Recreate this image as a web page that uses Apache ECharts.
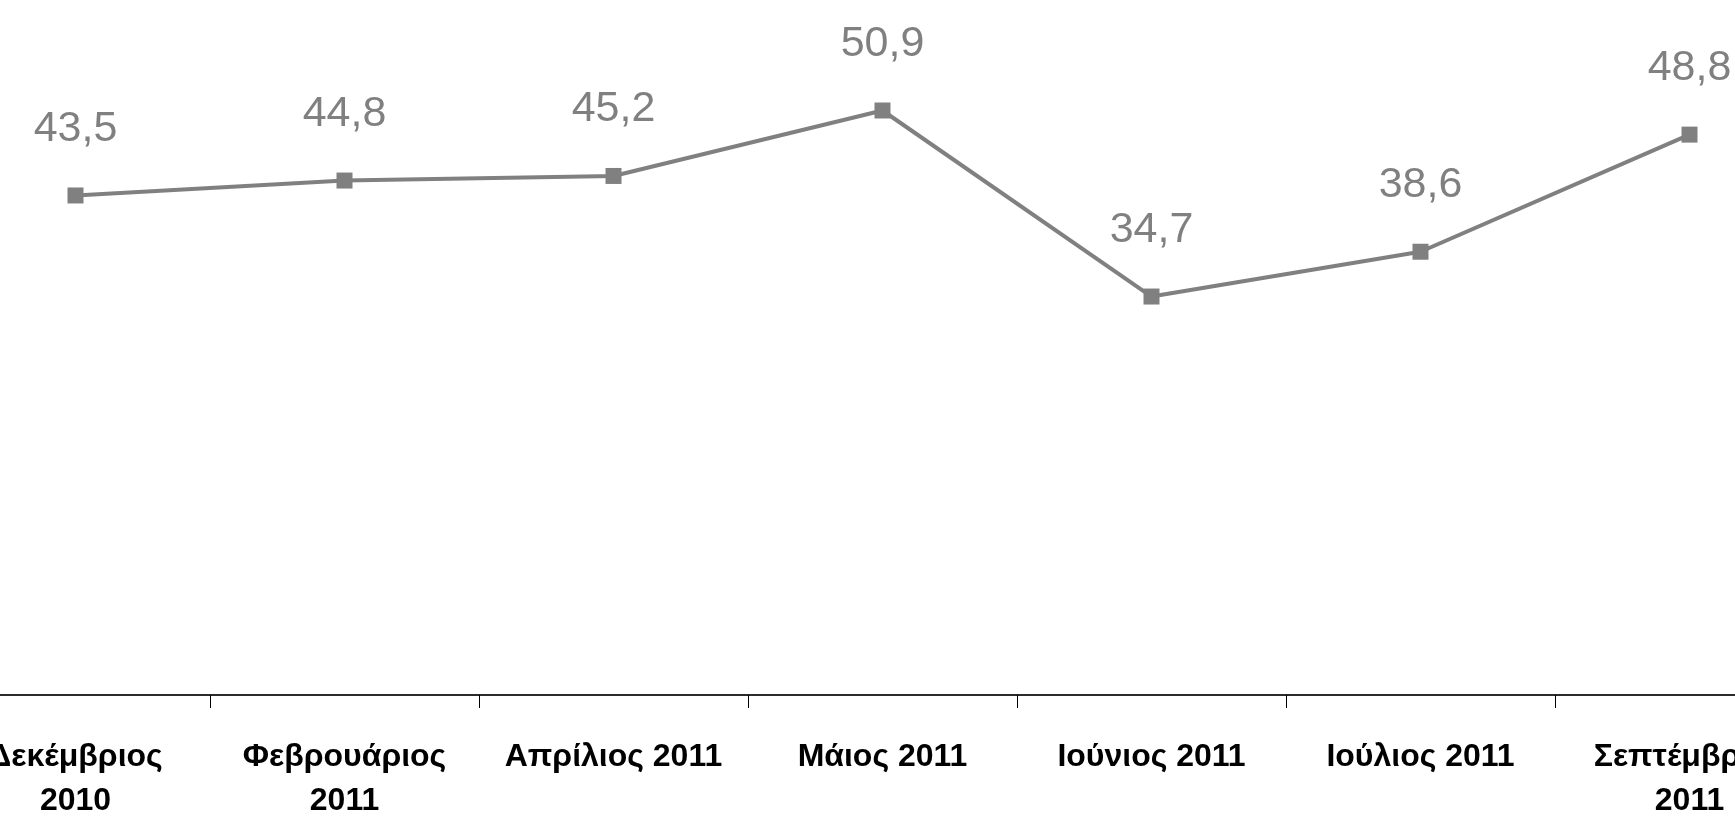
<!DOCTYPE html>
<html>
<head>
<meta charset="utf-8">
<script src="https://cdn.jsdelivr.net/npm/echarts@6/dist/echarts.min.js"></script>
<style>
html,body{margin:0;padding:0;background:#fff;overflow:hidden;width:1735px;height:817px;}
#wrap{position:relative;width:1735px;height:817px;overflow:hidden;}
#chart{position:absolute;left:-59px;top:0;width:1883px;height:817px;}
</style>
</head>
<body>
<div id="wrap"><div id="chart"></div></div>
<script>
const categories = [
  'Δεκέμβριος\n2010',
  'Φεβρουάριος\n2011',
  'Απρίλιος 2011',
  'Μάιος 2011',
  'Ιούνιος 2011',
  'Ιούλιος 2011',
  'Σεπτέμβριος\n2011'
];
const values = [43.5, 44.8, 45.2, 50.9, 34.7, 38.6, 48.8];
const yMin = 0;
const yMax = 60;

const fam = "'Liberation Sans', Arial, sans-serif";
const chart = echarts.init(document.getElementById('chart'));
chart.setOption({
  animation: false,
  backgroundColor: '#ffffff',
  grid: { left: 0, right: 0, top: 6, bottom: 122, containLabel: false, outerBoundsMode: 'none' },
  xAxis: {
    type: 'category',
    data: categories,
    boundaryGap: true,
    axisLine: { show: true, lineStyle: { color: '#2b2b2b', width: 2 } },
    axisTick: { show: true, alignWithLabel: false, length: 13, lineStyle: { color: '#000', width: 1 } },
    axisLabel: {
      interval: 0,
      margin: 40,
      fontFamily: fam,
      fontWeight: 'bold',
      fontSize: 32,
      lineHeight: 44,
      color: '#000'
    }
  },
  yAxis: {
    type: 'value',
    min: yMin,
    max: yMax,
    show: false,
    splitLine: { show: false }
  },
  series: [{
    type: 'line',
    data: values,
    symbol: 'rect',
    symbolSize: 16,
    lineStyle: { color: '#808080', width: 4 },
    itemStyle: { color: '#808080' },
    label: {
      show: true,
      position: 'top',
      distance: 37,
      fontFamily: fam,
      fontSize: 43,
      color: '#808080',
      formatter: p => String(p.value).replace('.', ',')
    }
  }]
});
</script>
</body>
</html>
